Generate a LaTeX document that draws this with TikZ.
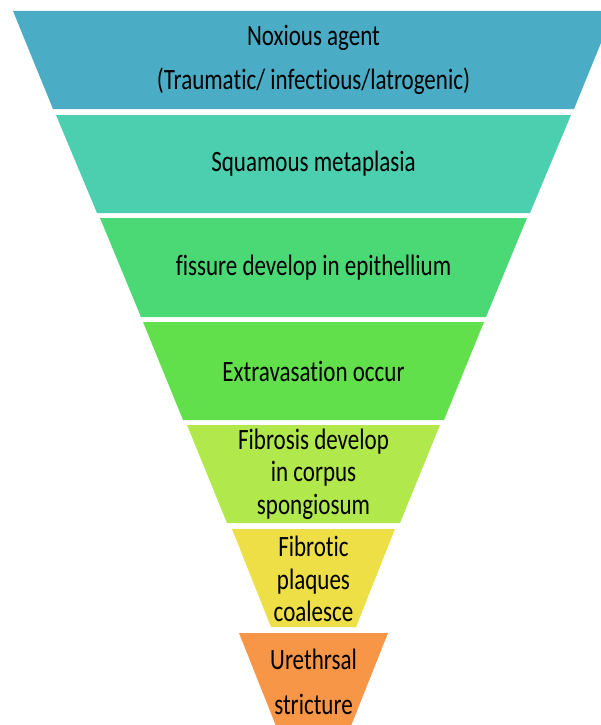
\documentclass[tikz,border=0pt]{standalone}
\usepackage{fontspec}
\setmainfont{Carlito}[FakeStretch=0.78, Ligatures={NoCommon,TeX}]

\definecolor{stepA}{HTML}{4BACC6}
\definecolor{stepB}{HTML}{4BCFAE}
\definecolor{stepC}{HTML}{4BD975}
\definecolor{stepD}{HTML}{62E04B}
\definecolor{stepE}{HTML}{B1E84B}
\definecolor{stepF}{HTML}{EEDF47}
\definecolor{stepG}{HTML}{F79646}

\begin{document}
\begin{tikzpicture}[x=1pt, y=-1pt,
  stage/.style={align=center, inner sep=0pt, text=black,
    font=\fontsize{29.5}{32.5}\selectfont}]

  \useasboundingbox (0,0) rectangle (601,725);
  \clip (0,0) rectangle (601,725);

  % funnel bands, top to bottom
  \fill[stepA] (13,11)  -- (614,11)  -- (574,109) -- (53,109)  -- cycle;
  \fill[stepB] (56,115) -- (571,115) -- (530,213) -- (97,213)  -- cycle;
  \fill[stepC] (100,218) -- (527,218) -- (486,317) -- (141,317) -- cycle;
  \fill[stepD] (143,322) -- (484,322) -- (444,420) -- (183,420) -- cycle;
  \fill[stepE] (187,425) -- (440,425) -- (400,523) -- (227,523) -- cycle;
  \fill[stepF] (232,529) -- (395,529) -- (356,627) -- (271,627) -- cycle;
  \fill[stepG] (239,633) -- (388,633) -- (349,731) -- (278,731) -- cycle;

  % band texts
  \node[stage] (agent)    at (313.5,60)  {Noxious agent\\[11.5pt](Traumatic/ infectious/latrogenic)};
  \node[stage] (squamous) at (313.5,164) {Squamous metaplasia};
  \node[stage] (fissure)  at (313.5,268) {fissure develop in epithellium};
  \node[stage] (extrav)   at (313.5,371) {Extravasation occur};
  \node[stage] (fibrosis) at (313.5,474) {Fibrosis develop\\in corpus\\spongiosum};
  \node[stage] (plaques)  at (313.5,579) {Fibrotic\\plaques\\coalesce};
  \node[stage] (stricture) at (313.5,682) {Urethrsal\\[12.5pt]stricture};
\end{tikzpicture}
\end{document}
